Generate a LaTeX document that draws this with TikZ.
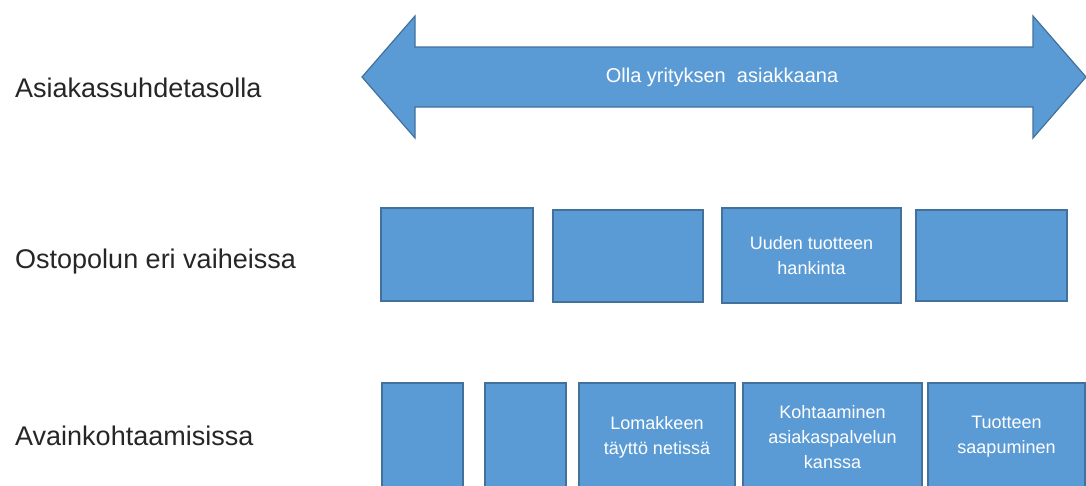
\documentclass[tikz,border=0pt]{standalone}
\usepackage{fontspec}
\setmainfont{Liberation Sans}
\begin{document}
\begin{tikzpicture}[x=1pt,y=-1pt,
  stage/.style={draw=blueedge, fill=bluefill, line width=1.4pt, inner sep=0pt,
    text=white, align=center, font=\fontsize{18}{25}\selectfont},
  rowlabel/.style={anchor=base west, inner sep=0pt, text=black!85,
    font=\fontsize{27}{32}\selectfont}]
\definecolor{bluefill}{HTML}{5B9BD5}
\definecolor{blueedge}{HTML}{41719C}
\useasboundingbox (0,0) rectangle (1086,485);

% row labels
\node[rowlabel] (l1) at (15,97) {Asiakassuhdetasolla};
\node[rowlabel] (l2) at (15,268) {Ostopolun eri vaiheissa};
\node[rowlabel] (l3) at (15,445) {Avainkohtaamisissa};

% double-headed arrow across the top
\draw[draw=blueedge, fill=bluefill, line width=1.2pt, line join=miter]
  (362,77) -- (415,16) -- (415,47) -- (1033,47) -- (1033,16) -- (1086,77)
  -- (1033,138) -- (1033,107) -- (415,107) -- (415,138) -- cycle;
\node[text=white, font=\fontsize{20}{24}\selectfont, inner sep=0pt] (arrowtxt) at (722,77)
  {Olla yrityksen\ \ asiakkaana};

% purchase-path stages
\node[stage, minimum width=152, minimum height=93] (b1) at (457,254.5) {};
\node[stage, minimum width=150, minimum height=92] (b2) at (628,256) {};
\node[stage, minimum width=179, minimum height=95] (b3) at (811.5,255.5) {Uuden tuotteen\\hankinta};
\node[stage, minimum width=151, minimum height=91] (b4) at (991.5,255.5) {};

% key touchpoints
\node[stage, minimum width=81, minimum height=108] (c1) at (422.5,437) {};
\node[stage, minimum width=81, minimum height=108] (c2) at (525.5,437) {};
\node[stage, minimum width=156, minimum height=108] (c3) at (657,437) {Lomakkeen\\täyttö netissä};
\node[stage, minimum width=179, minimum height=108] (c4) at (832.5,437) {Kohtaaminen\\asiakaspalvelun\\kanssa};
\node[stage, minimum width=157, minimum height=108] (c5) at (1006.5,437) {Tuotteen\\saapuminen};
\end{tikzpicture}
\end{document}
